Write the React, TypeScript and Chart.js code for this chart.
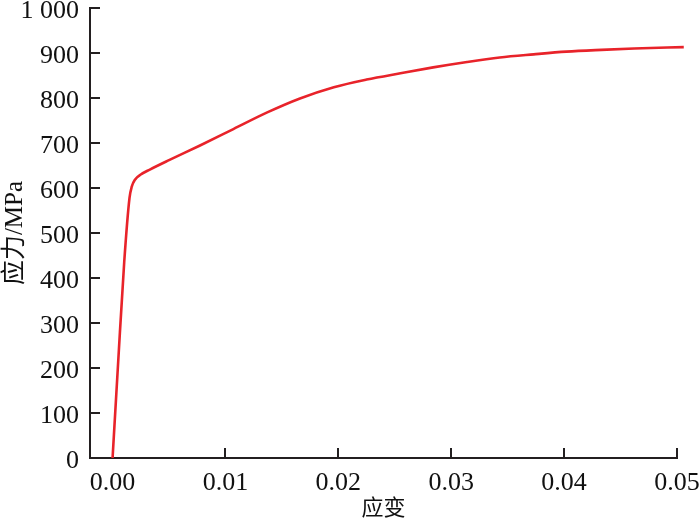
import React, { useEffect, useRef } from "react";
import { Chart, registerables } from "chart.js";

Chart.register(...registerables);

const strain = [
  0, 0.0005, 0.00103, 0.0015, 0.0017, 0.002, 0.0025, 0.0033, 0.005, 0.0077,
  0.0107, 0.0137, 0.0166, 0.0196, 0.0225, 0.0255, 0.0284, 0.0314, 0.0343,
  0.0373, 0.0402, 0.0433, 0.0462, 0.0506,
];
const stress = [
  0, 215, 435, 578, 603, 619, 630, 641, 662, 694, 731, 768, 799, 824, 841, 855,
  868, 880, 890, 897, 903, 907, 910, 913,
];
const xTicks = [0, 0.01, 0.02, 0.03, 0.04, 0.05];
const yTicks = [0, 100, 200, 300, 400, 500, 600, 700, 800, 900, 1000];
const xTitle = "应变";
const yTitle = "应力/MPa";

const FONT = "'Liberation Serif', 'Times New Roman', 'Noto Sans CJK SC', serif";
const AXIS = "#231f20";

const innerTicks = {
  id: "innerTicks",
  beforeDatasetsDraw(chart: any) {
    const { ctx, chartArea, scales } = chart;
    ctx.save();
    ctx.strokeStyle = AXIS;
    ctx.lineWidth = 2;
    ctx.beginPath();
    scales.x.ticks.forEach((t: any) => {
      const px = Math.round(scales.x.getPixelForValue(t.value));
      ctx.moveTo(px, chartArea.bottom);
      ctx.lineTo(px, chartArea.bottom - 10);
    });
    scales.y.ticks.forEach((t: any) => {
      const py = Math.round(scales.y.getPixelForValue(t.value));
      ctx.moveTo(chartArea.left, py);
      ctx.lineTo(chartArea.left + 10, py);
    });
    ctx.stroke();
    ctx.restore();
  },
};

export default function App() {
  const ref = useRef<HTMLCanvasElement | null>(null);
  useEffect(() => {
    if (!ref.current) return;
    const chart = new Chart(ref.current, {
      type: "line",
      data: {
        datasets: [
          {
            data: strain.map((s, i) => ({ x: s, y: stress[i] })),
            borderColor: "#e8232a",
            borderWidth: 2.6,
            pointRadius: 0,
            cubicInterpolationMode: "monotone",
            clip: false as any,
          },
        ],
      },
      plugins: [innerTicks],
      options: {
        animation: false,
        responsive: true,
        maintainAspectRatio: false,
        layout: { padding: { left: 0, right: 0, top: 0, bottom: 0 } },
        plugins: { legend: { display: false }, tooltip: { enabled: false } },
        scales: {
          x: {
            type: "linear",
            min: -0.002,
            max: 0.05,
            afterBuildTicks: (s: any) => {
              s.ticks = xTicks.map((v) => ({ value: v }));
            },
            afterFit: (s: any) => {
              s.height = 69;
              s.paddingRight = 23;
              s.paddingLeft = 0;
            },
            grid: { display: false, drawTicks: false },
            border: { display: true, color: AXIS, width: 2 },
            ticks: {
              padding: 10,
              color: "#111",
              font: { family: FONT, size: 26 },
              callback: (v: any) => Number(v).toFixed(2),
            },
            title: {
              display: true,
              text: xTitle,
              color: "#111",
              font: { family: FONT, size: 22 },
              padding: { top: 0, bottom: 5 },
            },
          },
          y: {
            type: "linear",
            min: 0,
            max: 1000,
            afterBuildTicks: (s: any) => {
              s.ticks = yTicks.map((v) => ({ value: v }));
            },
            afterFit: (s: any) => {
              s.width = 90;
              s.paddingTop = 8;
              s.paddingBottom = 0;
            },
            grid: { display: false, drawTicks: false },
            border: { display: true, color: AXIS, width: 2 },
            ticks: {
              padding: 11,
              labelOffset: 3,
              color: "#111",
              font: { family: FONT, size: 26 },
              callback: (v: any) =>
                Number(v) >= 1000
                  ? String(v).replace(/\B(?=(\d{3})+(?!\d))/g, " ")
                  : String(v),
            },
            title: {
              display: true,
              text: yTitle,
              color: "#111",
              font: { family: FONT, size: 25 },
              padding: { top: 0, bottom: 0 },
            },
          },
        },
      },
    });
    return () => chart.destroy();
  }, []);
  return (
    <div style={{ position: "fixed", left: 0, top: 0, width: 700, height: 527, background: "#fff" }}>
      <canvas ref={ref} />
    </div>
  );
}
